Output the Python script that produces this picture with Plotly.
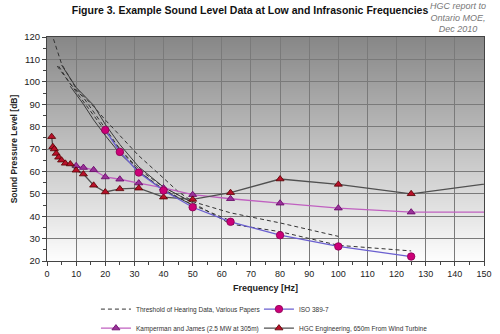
import base64
import struct
import zlib
import plotly.graph_objects as go

# ---------------- data ----------------
iso_f = [20, 25, 31.5, 40, 50, 63, 80, 100, 125]
iso_db = [78.5, 68.7, 59.5, 51.5, 44.0, 37.5, 31.5, 26.5, 22.0]

kj_f = [10, 12.5, 16, 20, 25, 31.5, 40, 50, 63, 80, 100, 125, 160]
kj_db = [62.5, 61.7, 60.7, 57.5, 56.5, 54.8, 52.6, 49.6, 47.8, 45.8, 43.6, 41.8, 41.8]

hgc_f = [1.6, 2, 2.5, 3.15, 4, 5, 6.3, 8, 10, 12.5, 16, 20, 25, 31.5, 40, 50, 63, 80, 100, 125, 160]
hgc_db = [75.5, 71.0, 70.0, 68.0, 66.3, 65.0, 63.6, 63.3, 60.5, 58.8, 53.8, 50.8, 52.2, 52.5,
          48.5, 47.5, 50.5, 56.6, 54.2, 50.0, 56.0]

thr_a_f = [1.5, 5, 10, 16, 20, 25, 31.5, 40, 45, 50, 63, 80, 100]
thr_a_db = [122, 108, 97, 89, 83, 76, 67, 57, 51, 46.5, 41.5, 37, 31]
thr_b_f = [3.5, 8, 12.5, 16, 20, 25, 31.5, 40, 50, 63, 80, 100, 125]
thr_b_db = [107, 99, 91, 85, 78, 70, 61, 53, 46, 36.5, 33.1, 27, 24.5]
thr_d_f = [4, 8, 12.5, 18, 25, 31.5, 40, 50, 63]
thr_d_db = [107, 99, 93, 83, 70, 60, 52, 45, 38]
sol_c_f = [5, 10, 16, 20, 25, 31.5, 40, 50]
sol_c_db = [107.5, 97.5, 89.5, 81, 72, 62, 53, 46]
sol_e_f = [8, 12.5, 16, 20, 25, 31.5, 40, 50]
sol_e_db = [98, 90, 83, 76, 68, 60, 51.5, 45]

x_ticks = list(range(0, 151, 10))
y_ticks = list(range(20, 121, 10))

FONT = "Arial, Liberation Sans, sans-serif"


def gradient_png(h=224, top=135, bottom=253):
    raw = b""
    for r in range(h):
        t = r / (h - 1)
        c = int(round(top + (bottom - top) * t))
        raw += b"\x00" + bytes([c, c, c])

    def chunk(tag, data):
        return (struct.pack(">I", len(data)) + tag + data
                + struct.pack(">I", zlib.crc32(tag + data) & 0xffffffff))
    png = (b"\x89PNG\r\n\x1a\n"
           + chunk(b"IHDR", struct.pack(">IIBBBBB", 1, h, 8, 2, 0, 0, 0))
           + chunk(b"IDAT", zlib.compress(raw))
           + chunk(b"IEND", b""))
    return "data:image/png;base64," + base64.b64encode(png).decode()


fig = go.Figure()

# threshold curves
dashed = [(thr_a_f, thr_a_db), (thr_b_f, thr_b_db), (thr_d_f, thr_d_db)]
for i, (f, d) in enumerate(dashed):
    fig.add_trace(go.Scatter(
        x=f, y=d, mode="lines", name="Threshold of Hearing Data, Various Papers",
        line=dict(color="#333333", width=1, dash="4px,3px"),
        legendgroup="thr", showlegend=(i == 0), legend="legend", legendrank=1))
for f, d in [(sol_c_f, sol_c_db), (sol_e_f, sol_e_db)]:
    fig.add_trace(go.Scatter(
        x=f, y=d, mode="lines", line=dict(color="#3a3a3a", width=1),
        legendgroup="thr", showlegend=False))

fig.add_trace(go.Scatter(
    x=kj_f, y=kj_db, mode="lines+markers", name="Kamperman and James (2.5 MW at 305m)",
    line=dict(color="#c060c0", width=1.3),
    marker=dict(symbol="triangle-up", size=7, color="#993399",
                line=dict(color="#660066", width=0.8)),
    legend="legend", legendrank=2))
fig.add_trace(go.Scatter(
    x=hgc_f, y=hgc_db, mode="lines+markers", name="HGC Engineering, 650m From Wind Turbine",
    line=dict(color="#505050", width=1.3),
    marker=dict(symbol="triangle-up", size=7, color="#b8102a",
                line=dict(color="#550000", width=0.8)),
    legend="legend2", legendrank=2))
fig.add_trace(go.Scatter(
    x=iso_f, y=iso_db, mode="lines+markers", name="ISO 389-7",
    line=dict(color="#6a5fd0", width=1.3),
    marker=dict(symbol="circle", size=7.5, color="#cc0077",
                line=dict(color="#880055", width=0.8)),
    legend="legend2", legendrank=1))

leg_common = dict(orientation="v", xanchor="left", y=-0.15, yanchor="top",
                  itemwidth=30, font=dict(size=6.5, color="#333333"),
                  tracegroupgap=0, bgcolor="rgba(0,0,0,0)")

fig.update_layout(
    width=500, height=334,
    margin=dict(l=47, r=16, t=37, b=73, autoexpand=False),
    paper_bgcolor="white", plot_bgcolor="white",
    images=[dict(source=gradient_png(), xref="x domain", yref="y domain",
                 x=0, y=1, sizex=1, sizey=1, xanchor="left", yanchor="top",
                 sizing="stretch", layer="below")],
    font=dict(family=FONT, size=9, color="#222222"),
    title=dict(text="<b>Figure 3. Example Sound Level Data at Low and Infrasonic Frequencies</b>",
               x=0.5, xref="container", xanchor="center",
               y=1 - 10 / 334, yref="container", yanchor="middle",
               font=dict(size=10.5, color="#111111", family=FONT)),
    showlegend=True,
    legend=dict(x=0.112, **leg_common),
    legend2=dict(x=0.485, **leg_common),
    annotations=[dict(text="<i>HGC report to<br>Ontario MOE,<br>Dec 2010</i>",
                      xref="paper", yref="paper", x=0.94, y=1.085, xanchor="center",
                      yanchor="middle", showarrow=False, align="center",
                      font=dict(size=9, color="#777777", family=FONT))],
)

fig.update_xaxes(range=[0, 150], tickvals=x_ticks, ticktext=[str(v) for v in x_ticks],
                 showgrid=True, gridcolor="#7a7a7a", gridwidth=1,
                 showline=True, linecolor="#444444", linewidth=1, mirror=True,
                 ticks="outside", ticklen=4, tickcolor="#444444",
                 minor=dict(dtick=5, ticks="outside", ticklen=3, tickcolor="#444444", showgrid=False),
                 zeroline=False, tickfont=dict(size=9),
                 title=dict(text="<b>Frequency [Hz]</b>", font=dict(size=9, color="#222222"), standoff=6))
fig.update_yaxes(range=[20, 120], tickvals=y_ticks, ticktext=[str(v) for v in y_ticks],
                 showgrid=True, gridcolor="#7a7a7a", gridwidth=1,
                 showline=True, linecolor="#444444", linewidth=1, mirror=True,
                 ticks="outside", ticklen=4, tickcolor="#444444",
                 minor=dict(dtick=5, ticks="outside", ticklen=3, tickcolor="#444444", showgrid=False),
                 zeroline=False, tickfont=dict(size=9.5),
                 title=dict(text="<b>Sound Pressure Level [dB]</b>", font=dict(size=8.5, color="#222222"), standoff=5))

fig.write_html("out.html")
